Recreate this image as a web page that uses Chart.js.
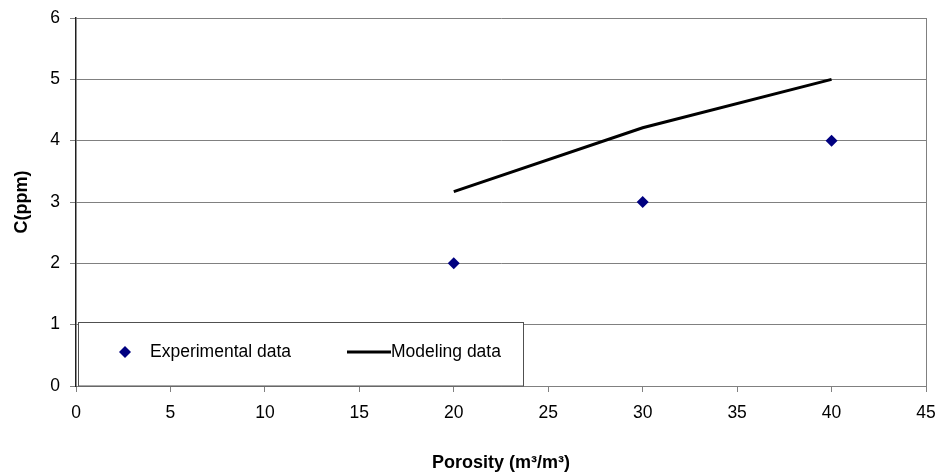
<!DOCTYPE html>
<html>
<head>
<meta charset="utf-8">
<script src="https://cdn.jsdelivr.net/npm/chart.js@4/dist/chart.umd.min.js"></script>
<style>
html,body{margin:0;padding:0;background:#fff;}
#wrap{width:937px;height:475px;position:relative;}
</style>
</head>
<body>
<div id="wrap"><canvas id="c" width="937" height="475"></canvas></div>
<script>
const porosityExp = [20, 30, 40];
const concExp = [2, 3, 4];
const porosityModel = [20, 30, 40];
const concModel = [3.17, 4.21, 5.0];
const xTicks = [0, 5, 10, 15, 20, 25, 30, 35, 40, 45];
const yTicks = [0, 1, 2, 3, 4, 5, 6];
const seriesNames = ['Experimental data', 'Modeling data'];
const xTitle = 'Porosity (m³/m³)';
const yTitle = 'C(ppm)';

const FONT = '"Liberation Sans", Arial, sans-serif';

const frame = {
  id: 'frame',
  afterDatasetsDraw(chart) {
    const {ctx, chartArea: a} = chart;
    ctx.save();
    ctx.strokeStyle = '#808080';
    ctx.lineWidth = 1;
    ctx.beginPath();
    ctx.moveTo(a.right + 0.5, a.top);
    ctx.lineTo(a.right + 0.5, a.bottom);
    ctx.stroke();
    ctx.restore();
  },
  afterDraw(chart) {
    const {ctx, chartArea: a} = chart;
    const x0 = a.left + 2, x1 = a.left + 447, y0 = a.bottom - 64, y1 = a.bottom;
    ctx.save();
    ctx.fillStyle = '#fff';
    ctx.fillRect(x0, y0, x1 - x0, y1 - y0);
    ctx.strokeStyle = '#505050';
    ctx.lineWidth = 1;
    ctx.strokeRect(x0 + 0.5, y0 + 0.5, x1 - x0, y1 - y0 - 0.5);
    const cy = y0 + 30;
    const mx = a.left + 49;
    ctx.fillStyle = '#000080';
    ctx.beginPath();
    ctx.moveTo(mx, cy - 6); ctx.lineTo(mx + 6, cy); ctx.lineTo(mx, cy + 6); ctx.lineTo(mx - 6, cy);
    ctx.closePath(); ctx.fill();
    ctx.fillStyle = '#000';
    ctx.font = '17.5px ' + FONT;
    ctx.textBaseline = 'middle';
    ctx.textAlign = 'left';
    ctx.fillText(seriesNames[0], a.left + 74, cy);
    ctx.strokeStyle = '#000';
    ctx.lineWidth = 3;
    ctx.beginPath();
    ctx.moveTo(a.left + 271, cy); ctx.lineTo(a.left + 315, cy); ctx.stroke();
    ctx.fillText(seriesNames[1], a.left + 315, cy);
    ctx.restore();
  }
};

new Chart(document.getElementById('c'), {
  type: 'scatter',
  data: {
    datasets: [
      {
        label: seriesNames[0],
        data: porosityExp.map((x, i) => ({x, y: concExp[i]})),
        pointStyle: 'rectRot',
        pointRadius: 6,
        backgroundColor: '#000080',
        borderColor: '#000080',
        borderWidth: 0,
        showLine: false
      },
      {
        label: seriesNames[1],
        data: porosityModel.map((x, i) => ({x, y: concModel[i]})),
        showLine: true,
        borderColor: '#000',
        borderWidth: 3,
        pointRadius: 0,
        fill: false
      }
    ]
  },
  options: {
    responsive: false,
    animation: false,
    layout: {padding: {top: 18, right: 11, left: 0, bottom: 0}},
    plugins: {legend: {display: false}, tooltip: {enabled: false}},
    scales: {
      x: {
        type: 'linear',
        min: 0, max: 45,
        afterBuildTicks: s => { s.ticks = xTicks.map(v => ({value: v})); },
        afterFit: s => { s.height = 89; s.paddingLeft = 0; s.paddingRight = 0; },
        grid: {drawOnChartArea: false, color: '#808080', tickLength: 6, tickWidth: 1},
        border: {color: '#808080', width: 1},
        ticks: {color: '#000', font: {family: FONT, size: 17.5}, padding: 11, maxRotation: 0},
        title: {display: true, text: xTitle, color: '#000', font: {family: FONT, size: 18, weight: 'bold'}, padding: {top: 1, bottom: 1}}
      },
      y: {
        type: 'linear',
        min: 0, max: 6,
        afterBuildTicks: s => { s.ticks = yTicks.map(v => ({value: v})); },
        afterFit: s => { s.width = 76; s.paddingTop = 0; s.paddingBottom = 0; },
        grid: {color: '#808080', lineWidth: 1, tickLength: 6},
        border: {color: '#202020', width: 1.5},
        ticks: {color: '#000', font: {family: FONT, size: 17.5}, padding: 10},
        title: {display: true, text: yTitle, color: '#000', font: {family: FONT, size: 18, weight: 'bold'}, padding: {top: 11, bottom: 11}}
      }
    }
  },
  plugins: [frame]
});
</script>
</body>
</html>
